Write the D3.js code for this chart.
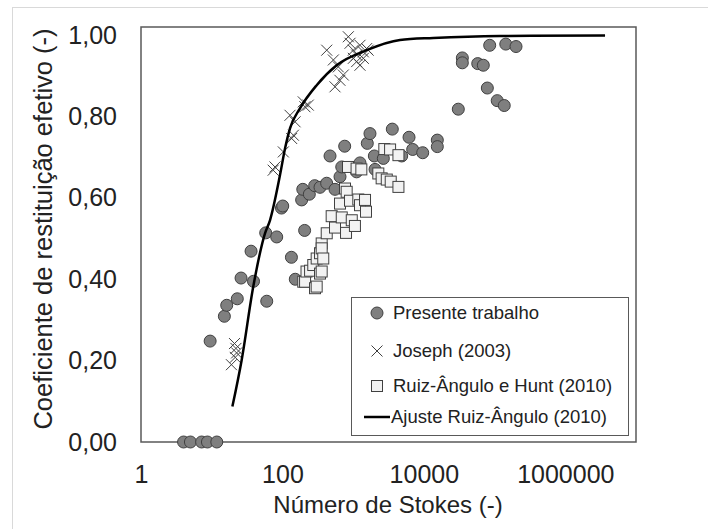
<!DOCTYPE html>
<html>
<head>
<meta charset="utf-8">
<script src="https://cdn.jsdelivr.net/npm/d3@7.9.0/dist/d3.min.js"></script>
<style>
  body { margin: 0; background: #fff; }
  svg text { font-family: "Liberation Sans", Arial, sans-serif; fill: #222; }
</style>
</head>
<body>
<svg id="chart" width="708" height="529"></svg>
<script>
// Presente trabalho [St, e]
const presente = [
  [4.0, 0], [5.0, 0], [7.2, 0], [8.7, 0], [11.8, 0],
  [9.5, 0.248], [15.1, 0.309], [16.3, 0.336], [23, 0.352], [26, 0.403],
  [36, 0.469], [39, 0.395], [58, 0.514], [60, 0.346], [83, 0.504],
  [97, 0.575], [101, 0.58], [134, 0.454], [152, 0.400], [187, 0.595],
  [194, 0.621], [206, 0.520], [240, 0.609], [286, 0.630], [340, 0.626],
  [422, 0.636], [471, 0.703], [554, 0.621], [652, 0.652], [690, 0.676],
  [759, 0.727], [1118, 0.664], [1250, 0.686], [1585, 0.734], [1730, 0.758],
  [1995, 0.703], [2040, 0.670], [2673, 0.697], [3580, 0.769], [4860, 0.703],
  [6170, 0.749], [6950, 0.719], [9630, 0.711], [15500, 0.742], [15500, 0.726],
  [30700, 0.818], [35000, 0.944], [35000, 0.932], [57800, 0.930], [69300, 0.926],
  [79000, 0.870], [85300, 0.975], [109000, 0.839], [137000, 0.827],
  [144000, 0.978], [201000, 0.972]
];

// Joseph (2003)
const joseph = [
  [19, 0.19], [21, 0.242], [22, 0.230], [22.5, 0.219], [21.5, 0.208],
  [74, 0.668], [78.5, 0.676], [103, 0.713], [135, 0.746], [143, 0.754],
  [128, 0.803], [151, 0.787], [197, 0.836], [208, 0.824], [232, 0.828],
  [423, 0.963], [525, 0.939], [554, 0.873], [617, 0.922], [650, 0.889],
  [726, 0.902], [855, 0.996], [904, 0.980], [1007, 0.963], [1007, 0.943],
  [1122, 0.951], [1122, 0.935], [1250, 0.975], [1250, 0.926], [1393, 0.959],
  [1393, 0.943], [1553, 0.967], [1630, 0.963]
];

// Ruiz-Ângulo e Hunt (2010)
const ruiz = [
  [197, 0.394], [209, 0.394], [219, 0.419], [246, 0.421], [273, 0.435],
  [289, 0.378], [305, 0.451], [305, 0.382], [340, 0.464], [340, 0.414],
  [359, 0.488], [359, 0.476], [359, 0.419], [378, 0.451], [423, 0.513],
  [497, 0.555], [554, 0.527], [652, 0.586], [690, 0.552], [767, 0.623],
  [793, 0.514], [810, 0.615], [846, 0.676], [903, 0.593], [956, 0.545],
  [1060, 0.531], [1118, 0.672], [1183, 0.596], [1250, 0.582], [1306, 0.670],
  [1472, 0.595], [1520, 0.566], [2270, 0.660], [2530, 0.648], [2760, 0.720],
  [2990, 0.645], [3330, 0.719], [3400, 0.640], [4370, 0.705], [4370, 0.627]
];

// Ajuste Ruiz-Ângulo (2010)
const ajuste = [
  [19.6, 0.087], [26.5, 0.201], [38.7, 0.382], [56.7, 0.513], [66.7, 0.545],
  [92.4, 0.656], [109, 0.722], [128, 0.771], [177, 0.820], [305, 0.877],
  [585, 0.926], [1553, 0.963], [4600, 0.988], [13600, 0.993], [119000, 0.998],
  [3650000, 0.999]
];

const xTicks = [1, 100, 10000, 1000000];
const yTicks = [0, 0.2, 0.4, 0.6, 0.8, 1.0];

const svg = d3.select('#chart');
const plotL = 141, plotR = 636, plotT = 27, plotB = 442;

const x = d3.scaleLog().domain([1, 1e7]).range([plotL, plotR]);
const y = d3.scaleLinear().domain([0, 1.02]).range([plotB, plotT]);
const ptFormat = d3.formatLocale({ decimal: ',', thousands: '.', grouping: [3], currency: ['', ''] }).format('.2f');

// outer chart frame
svg.append('rect')
  .attr('x', 12.5).attr('y', 7.5).attr('width', 720).attr('height', 540)
  .attr('fill', 'none').attr('stroke', '#d9d9d9');

// plot area border
svg.append('rect')
  .attr('x', plotL).attr('y', plotT).attr('width', plotR - plotL).attr('height', plotB - plotT)
  .attr('fill', 'none').attr('stroke', '#595959').attr('stroke-width', 1.5);

const xAxis = svg.append('g')
  .attr('transform', `translate(0,${plotB})`)
  .call(d3.axisBottom(x).tickValues(xTicks).tickSize(0).tickPadding(23).tickFormat(d3.format('d')));
const yAxis = svg.append('g')
  .attr('transform', `translate(${plotL},0)`)
  .call(d3.axisLeft(y).tickValues(yTicks).tickSize(0).tickPadding(24).tickFormat(ptFormat));
[xAxis, yAxis].forEach(g => {
  g.select('.domain').remove();
  g.selectAll('text').attr('font-size', 25).attr('font-family', '"Liberation Sans", Arial, sans-serif').attr('fill', '#222');
});

// axis titles
svg.append('text')
  .attr('x', 388).attr('y', 513)
  .attr('text-anchor', 'middle').attr('font-size', 24)
  .text('Número de Stokes (-)');
svg.append('text')
  .attr('transform', 'translate(52,229) rotate(-90)')
  .attr('text-anchor', 'middle').attr('font-size', 25.5)
  .text('Coeficiente de restituição efetivo (-)');

function crossPath(s) {
  return `M${-s},${-s}L${s},${s}M${-s},${s}L${s},${-s}`;
}

// series
svg.append('g').selectAll('circle').data(presente).join('circle')
  .attr('cx', d => x(d[0])).attr('cy', d => y(d[1])).attr('r', 6)
  .attr('fill', '#7f7f7f').attr('stroke', '#404040').attr('stroke-width', 1);

svg.append('g').selectAll('path').data(joseph).join('path')
  .attr('transform', d => `translate(${x(d[0])},${y(d[1])})`)
  .attr('d', crossPath(5.5))
  .attr('fill', 'none').attr('stroke', '#404040').attr('stroke-width', 1);

svg.append('g').selectAll('rect').data(ruiz).join('rect')
  .attr('x', d => x(d[0]) - 5.5).attr('y', d => y(d[1]) - 5.5)
  .attr('width', 11).attr('height', 11)
  .attr('fill', '#f2f2f2').attr('stroke', '#404040').attr('stroke-width', 1);

const line = d3.line().x(d => x(d[0])).y(d => y(d[1])).curve(d3.curveMonotoneX);
svg.append('path').datum(ajuste)
  .attr('d', line).attr('fill', 'none').attr('stroke', '#000').attr('stroke-width', 2.5);

// legend
const lg = svg.append('g');
lg.append('rect')
  .attr('x', 351.5).attr('y', 297.5).attr('width', 277).attr('height', 138)
  .attr('fill', '#fff').attr('stroke', '#595959');
const labels = ['Presente trabalho', 'Joseph (2003)', 'Ruiz-Ângulo e Hunt (2010)', 'Ajuste Ruiz-Ângulo (2010)'];
const rows = [313, 351, 386, 417];
labels.forEach((t, i) => {
  const cy = rows[i];
  if (i === 0) lg.append('circle').attr('cx', 377).attr('cy', cy).attr('r', 6)
    .attr('fill', '#7f7f7f').attr('stroke', '#404040');
  if (i === 1) lg.append('path').attr('transform', `translate(377,${cy})`).attr('d', crossPath(5.5))
    .attr('stroke', '#404040');
  if (i === 2) lg.append('rect').attr('x', 371.5).attr('y', cy - 5.5).attr('width', 11).attr('height', 11)
    .attr('fill', '#f2f2f2').attr('stroke', '#404040');
  if (i === 3) lg.append('line').attr('x1', 364).attr('x2', 390).attr('y1', cy).attr('y2', cy)
    .attr('stroke', '#000').attr('stroke-width', 2.5);
  lg.append('text').attr('x', i === 3 ? 391 : 393).attr('y', cy).attr('dy', '0.35em')
    .attr('font-size', 18.5).text(t);
});
</script>
</body>
</html>
